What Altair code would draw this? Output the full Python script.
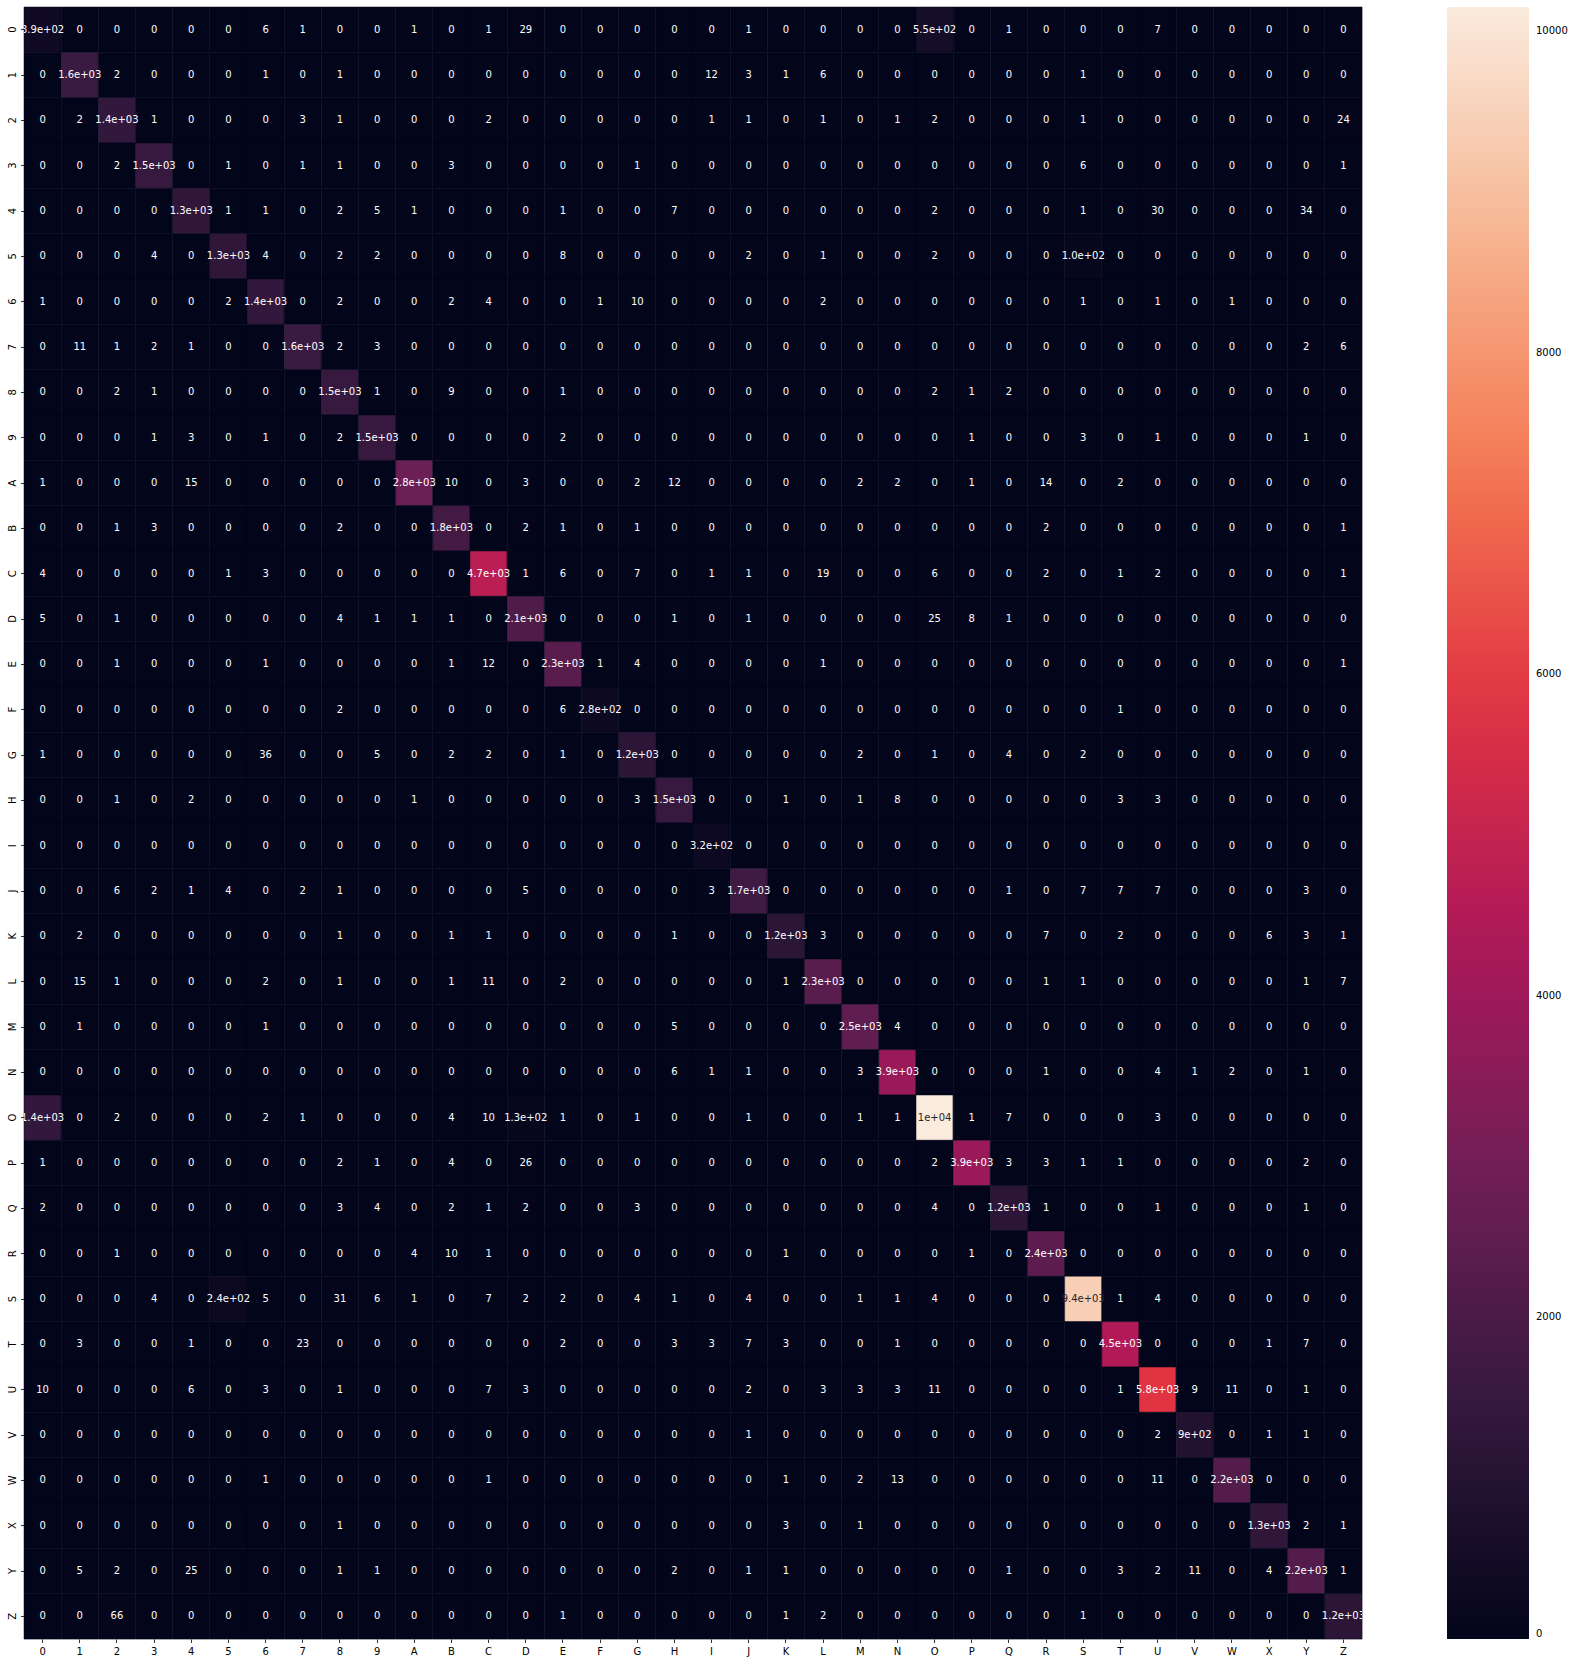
import altair as alt
import pandas as pd

labels = [str(i) for i in range(10)] + [chr(c) for c in range(ord("A"), ord("Z") + 1)]

# rows of the confusion matrix, columns in the same order as labels
r0 = [390,0,0,0,0,0,6,1,0,0, 1,0,1,29,0,0,0,0,0, 1,0,0,0,0,550,0,1,0,0,0,7,0,0,0,0,0]
r1 = [0,1600,2,0,0,0,1,0,1,0, 0,0,0,0,0,0,0,0,12, 3,1,6,0,0,0,0,0,0,1,0,0,0,0,0,0,0]
r2 = [0,2,1400,1,0,0,0,3,1,0, 0,0,2,0,0,0,0,0,1, 1,0,1,0,1,2,0,0,0,1,0,0,0,0,0,0,24]
r3 = [0,0,2,1500,0,1,0,1,1,0, 0,3,0,0,0,0,1,0,0, 0,0,0,0,0,0,0,0,0,6,0,0,0,0,0,0,1]
r4 = [0,0,0,0,1300,1,1,0,2,5, 1,0,0,0,1,0,0,7,0, 0,0,0,0,0,2,0,0,0,1,0,30,0,0,0,34,0]
r5 = [0,0,0,4,0,1300,4,0,2,2, 0,0,0,0,8,0,0,0,0, 2,0,1,0,0,2,0,0,0,100,0,0,0,0,0,0,0]
r6 = [1,0,0,0,0,2,1400,0,2,0, 0,2,4,0,0,1,10,0,0, 0,0,2,0,0,0,0,0,0,1,0,1,0,1,0,0,0]
r7 = [0,11,1,2,1,0,0,1600,2,3, 0,0,0,0,0,0,0,0,0, 0,0,0,0,0,0,0,0,0,0,0,0,0,0,0,2,6]
r8 = [0,0,2,1,0,0,0,0,1500,1, 0,9,0,0,1,0,0,0,0, 0,0,0,0,0,2,1,2,0,0,0,0,0,0,0,0,0]
r9 = [0,0,0,1,3,0,1,0,2,1500, 0,0,0,0,2,0,0,0,0, 0,0,0,0,0,0,1,0,0,3,0,1,0,0,0,1,0]
rA = [1,0,0,0,15,0,0,0,0,0, 2800,10,0,3,0,0,2,12,0, 0,0,0,2,2,0,1,0,14,0,2,0,0,0,0,0,0]
rB = [0,0,1,3,0,0,0,0,2,0, 0,1800,0,2,1,0,1,0,0, 0,0,0,0,0,0,0,0,2,0,0,0,0,0,0,0,1]
rC = [4,0,0,0,0,1,3,0,0,0, 0,0,4700,1,6,0,7,0,1, 1,0,19,0,0,6,0,0,2,0,1,2,0,0,0,0,1]
rD = [5,0,1,0,0,0,0,0,4,1, 1,1,0,2100,0,0,0,1,0, 1,0,0,0,0,25,8,1,0,0,0,0,0,0,0,0,0]
rE = [0,0,1,0,0,0,1,0,0,0, 0,1,12,0,2300,1,4,0,0, 0,0,1,0,0,0,0,0,0,0,0,0,0,0,0,0,1]
rF = [0,0,0,0,0,0,0,0,2,0, 0,0,0,0,6,280,0,0,0, 0,0,0,0,0,0,0,0,0,0,1,0,0,0,0,0,0]
rG = [1,0,0,0,0,0,36,0,0,5, 0,2,2,0,1,0,1200,0,0, 0,0,0,2,0,1,0,4,0,2,0,0,0,0,0,0,0]
rH = [0,0,1,0,2,0,0,0,0,0, 1,0,0,0,0,0,3,1500,0, 0,1,0,1,8,0,0,0,0,0,3,3,0,0,0,0,0]
rI = [0,0,0,0,0,0,0,0,0,0, 0,0,0,0,0,0,0,0,320, 0,0,0,0,0,0,0,0,0,0,0,0,0,0,0,0,0]
rJ = [0,0,6,2,1,4,0,2,1,0, 0,0,0,5,0,0,0,0,3, 1700,0,0,0,0,0,0,1,0,7,7,7,0,0,0,3,0]
rK = [0,2,0,0,0,0,0,0,1,0, 0,1,1,0,0,0,0,1,0, 0,1200,3,0,0,0,0,0,7,0,2,0,0,0,6,3,1]
rL = [0,15,1,0,0,0,2,0,1,0, 0,1,11,0,2,0,0,0,0, 0,1,2300,0,0,0,0,0,1,1,0,0,0,0,0,1,7]
rM = [0,1,0,0,0,0,1,0,0,0, 0,0,0,0,0,0,0,5,0, 0,0,0,2500,4,0,0,0,0,0,0,0,0,0,0,0,0]
rN = [0,0,0,0,0,0,0,0,0,0, 0,0,0,0,0,0,0,6,1, 1,0,0,3,3900,0,0,0,1,0,0,4,1,2,0,1,0]
rO = [1400,0,2,0,0,0,2,1,0,0, 0,4,10,130,1,0,1,0,0, 1,0,0,1,1,10150,1,7,0,0,0,3,0,0,0,0,0]
rP = [1,0,0,0,0,0,0,0,2,1, 0,4,0,26,0,0,0,0,0, 0,0,0,0,0,2,3900,3,3,1,1,0,0,0,0,2,0]
rQ = [2,0,0,0,0,0,0,0,3,4, 0,2,1,2,0,0,3,0,0, 0,0,0,0,0,4,0,1200,1,0,0,1,0,0,0,1,0]
rR = [0,0,1,0,0,0,0,0,0,0, 4,10,1,0,0,0,0,0,0, 0,1,0,0,0,0,1,0,2400,0,0,0,0,0,0,0,0]
rS = [0,0,0,4,0,240,5,0,31,6, 1,0,7,2,2,0,4,1,0, 4,0,0,1,1,4,0,0,0,9400,1,4,0,0,0,0,0]
rT = [0,3,0,0,1,0,0,23,0,0, 0,0,0,0,2,0,0,3,3, 7,3,0,0,1,0,0,0,0,0,4500,0,0,0,1,7,0]
rU = [10,0,0,0,6,0,3,0,1,0, 0,0,7,3,0,0,0,0,0, 2,0,3,3,3,11,0,0,0,0,1,5800,9,11,0,1,0]
rV = [0,0,0,0,0,0,0,0,0,0, 0,0,0,0,0,0,0,0,0, 1,0,0,0,0,0,0,0,0,0,0,2,900,0,1,1,0]
rW = [0,0,0,0,0,0,1,0,0,0, 0,0,1,0,0,0,0,0,0, 0,1,0,2,13,0,0,0,0,0,0,11,0,2200,0,0,0]
rX = [0,0,0,0,0,0,0,0,1,0, 0,0,0,0,0,0,0,0,0, 0,3,0,1,0,0,0,0,0,0,0,0,0,0,1300,2,1]
rY = [0,5,2,0,25,0,0,0,1,1, 0,0,0,0,0,0,0,2,0, 1,1,0,0,0,0,0,1,0,0,3,2,11,0,4,2200,1]
rZ = [0,0,66,0,0,0,0,0,0,0, 0,0,0,0,1,0,0,0,0, 0,1,2,0,0,0,0,0,0,1,0,0,0,0,0,0,1200]

matrix = [r0, r1, r2, r3, r4, r5, r6, r7, r8, r9, rA, rB, rC, rD, rE, rF, rG, rH, rI,
          rJ, rK, rL, rM, rN, rO, rP, rQ, rR, rS, rT, rU, rV, rW, rX, rY, rZ]
assert len(matrix) == 36 and all(len(r) == 36 for r in matrix)

colorbar_ticks = [0, 2000, 4000, 6000, 8000, 10000]
rocket = ["#03051a", "#35193e", "#701f57", "#ad1759", "#e13342", "#f37651", "#f6b48f", "#faebdd"]

label_fix = {"1e+02": "1.0e+02"}


def annot(v):
    s = format(v, ".2g")
    return label_fix.get(s, s)


records = []
for i, rlab in enumerate(labels):
    for j, clab in enumerate(labels):
        v = matrix[i][j]
        records.append({"row": rlab, "col": clab, "value": v, "label": annot(v)})
df = pd.DataFrame(records)

vmax = max(max(r) for r in matrix)

FONT = "DejaVu Sans"

xenc = alt.X("col:N", sort=labels, title=None,
             scale=alt.Scale(paddingInner=0, paddingOuter=0),
             axis=alt.Axis(labelAngle=0, labelFont=FONT, labelFontSize=10, labelColor="#000000",
                           tickColor="#000000", tickSize=3.5, tickWidth=0.8, labelPadding=3.5,
                           domain=False, grid=False))
yenc = alt.Y("row:N", sort=labels, title=None,
             scale=alt.Scale(paddingInner=0, paddingOuter=0),
             axis=alt.Axis(labelAngle=270, labelAlign="center", labelBaseline="bottom",
                           labelFont=FONT, labelFontSize=10, labelColor="#000000",
                           tickColor="#000000", tickSize=3.5, tickWidth=0.8, labelPadding=3.5,
                           domain=False, grid=False))

cscale = alt.Scale(domain=[0, vmax], range=rocket, interpolate="rgb")

base = alt.Chart(df).encode(x=xenc, y=yenc)

rect = base.mark_rect(stroke=rocket[0], strokeWidth=0.5).encode(
    color=alt.Color("value:Q", scale=cscale,
                    legend=alt.Legend(type="gradient", title=None, orient="right", offset=85,
                                      padding=0, direction="vertical",
                                      gradientLength=1632, gradientThickness=82,
                                      gradientStrokeWidth=0,
                                      values=colorbar_ticks, format="d",
                                      labelFont=FONT, labelFontSize=10, labelColor="#000000",
                                      labelOffset=7)),
)

text = base.mark_text(font=FONT, fontSize=10, align="center", baseline="middle",
                      clip=True).encode(
    text="label:N",
    color=alt.condition("datum.value > 8000", alt.value("#262626"), alt.value("#ffffff")),
)

chart = (rect + text).properties(
    width=1338, height=1632,
    autosize=alt.AutoSizeParams(type="none"),
    padding={"left": 24, "top": 7, "right": 212, "bottom": 23},
).configure_view(strokeWidth=0, fill=rocket[0]).configure_axis(
    grid=False, gridOpacity=0).configure(background="white")

chart.save("out.html", embed_options={"renderer": "svg", "actions": False})
